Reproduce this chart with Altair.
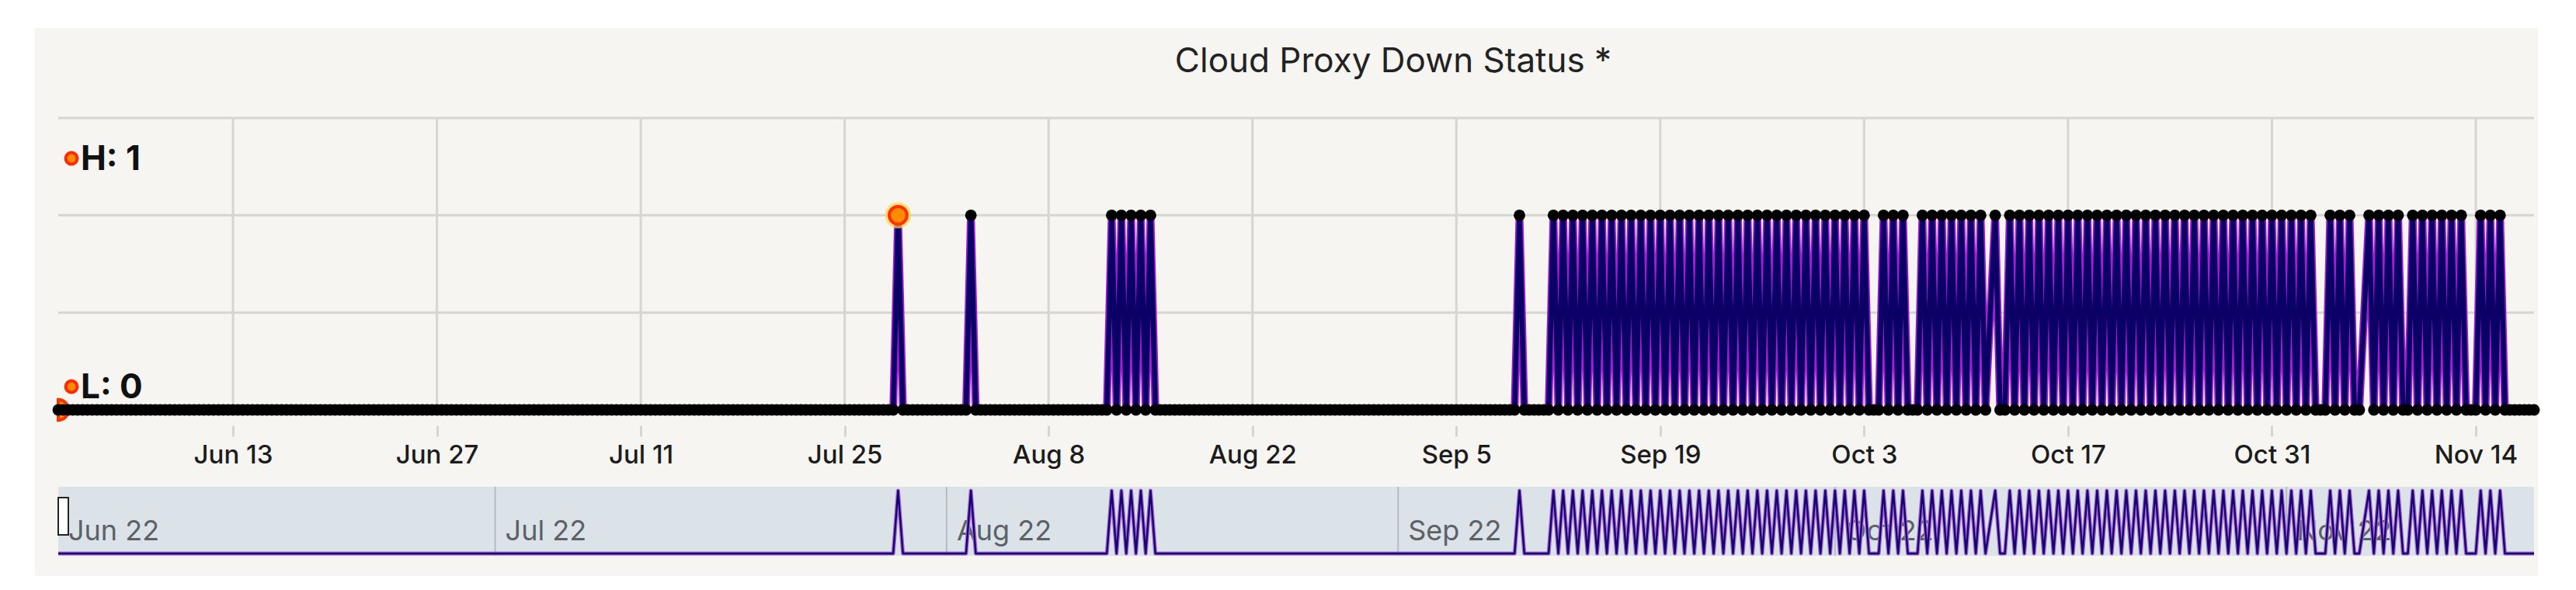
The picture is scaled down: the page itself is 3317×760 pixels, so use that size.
import altair as alt
import pandas as pd

# ---------------- data ----------------
# Status samples every 8 hours starting 2022-06-01 00:00.
# Each 3-char group is one day, each row is one week.  1 = down, 0 = up, "." = no sample.
status_rows = [
    "000 000 000 000 000 000 000",  # Jun 1
    "000 000 000 000 000 000 000",  # Jun 8
    "000 000 000 000 000 000 000",  # Jun 15
    "000 000 000 000 000 000 000",  # Jun 22
    "000 000 000 000 000 000 000",  # Jun 29
    "000 000 000 000 000 000 000",  # Jul 6
    "000 000 000 000 000 000 000",  # Jul 13
    "000 000 000 000 000 000 000",  # Jul 20
    "000 001 000 000 000 000 001",  # Jul 27
    "000 000 000 000 000 000 000",  # Aug 3
    "000 000 010 101 010 100 000",  # Aug 10
    "000 000 000 000 000 000 000",  # Aug 17
    "000 000 000 000 000 000 000",  # Aug 24
    "000 000 000 000 000 000 000",  # Aug 31
    "000 000 010 000 001 010 101",  # Sep 7
    "010 101 010 101 010 101 010",  # Sep 14
    "101 010 101 010 101 010 101",  # Sep 21
    "010 101 010 101 010 100 010",  # Sep 28
    "101 000 101 010 101 010 10.",  # Oct 5
    "100 101 010 101 010 101 010",  # Oct 12
    "101 010 101 010 101 010 101",  # Oct 19
    "010 101 010 101 010 101 010",  # Oct 26
    "101 000 101 010 0.1 010 101",  # Nov 2
    "001 010 101 010 100 010 101",  # Nov 9
    "000 000 0",                    # Nov 16
]

tick_dates = ["2022-06-13", "2022-06-27", "2022-07-11", "2022-07-25", "2022-08-08",
              "2022-08-22", "2022-09-05", "2022-09-19", "2022-10-03", "2022-10-17",
              "2022-10-31", "2022-11-14"]
month_starts = ["2022-06-01", "2022-07-01", "2022-08-01", "2022-09-01", "2022-10-01", "2022-11-01"]
month_labels = ["Jun 22", "Jul 22", "Aug 22", "Sep 22", "Oct 22", "Nov 22"]
grid_levels = [0.5, 1.0, 1.5]
domain_start = "2022-06-01"
domain_end = "2022-11-18"
title_text = "Cloud Proxy Down Status *"

# ---------------- tables ----------------
chars = "".join("".join(status_rows).split())
times = pd.date_range(domain_start, periods=len(chars), freq="8h")
df = pd.DataFrame({"t": times, "v": [None if c == "." else int(c) for c in chars]}).dropna()
df["v"] = df["v"].astype(int)

hi_row = df.loc[df["v"].idxmax()]
lo_row = df.loc[df["v"].idxmin()]
df_hi = pd.DataFrame({"t": [hi_row["t"]], "v": [hi_row["v"]]})
df_lo = pd.DataFrame({"t": [lo_row["t"]], "v": [lo_row["v"]]})

df_ticks = pd.DataFrame({"t": pd.to_datetime(tick_dates)})
df_grid = pd.DataFrame({"g": grid_levels})
df_months = pd.DataFrame({"t": pd.to_datetime(month_starts), "label": month_labels})
df_sep = df_months.iloc[1:]
one = pd.DataFrame({"a": [0]})

# ---------------- style ----------------
FONT = "Inter"
PANEL = "#f6f5f2"
GRID = "#d5d5d2"
NAV_BG = "#dbe3e9"
W, H = 3188, 376
NAV_H = 89

def dt(s):
    p = pd.Timestamp(s)
    return alt.DateTime(year=p.year, month=p.month, date=p.day)

x_scale = alt.Scale(domain=[dt(domain_start), dt(domain_end)], nice=False)
x_main = alt.X(
    "t:T", scale=x_scale, title=None,
    axis=alt.Axis(values=[dt(s) for s in tick_dates], format="%b %-d",
                  labelFont=FONT, labelFontSize=33, labelFontWeight=500,
                  labelColor="#1c1c1c", grid=False, domain=False, ticks=True,
                  tickSize=14, tickWidth=3, tickColor=GRID, offset=20,
                  labelPadding=8, zindex=1, labelFlush=False, labelOverlap=False),
)
y_scale = alt.Scale(domain=[0, 1.5], nice=False, zero=False)

panel = alt.Chart(one).mark_rect(color=PANEL).encode(
    x=alt.value(-30), x2=alt.value(W + 5), y=alt.value(-116), y2=alt.value(590))

hgrid = alt.Chart(df_grid).mark_rule(color=GRID, strokeWidth=3).encode(
    y=alt.Y("g:Q", scale=y_scale, axis=None), x=alt.value(0), x2=alt.value(W))

vgrid = alt.Chart(df_ticks).mark_rule(color=GRID, strokeWidth=3).encode(
    x=x_main, y=alt.value(0), y2=alt.value(H))

low_mark = alt.Chart(df_lo).mark_point(
    shape="M0,-1 A1,1 0 0,1 0,1 Z", filled=True, fill="#ff8c00", stroke="#ff3000",
    strokeWidth=4, size=700, opacity=1).encode(
    x=x_main, y=alt.Y("v:Q", scale=y_scale, axis=None))

base = alt.Chart(df).encode(x=x_main, y=alt.Y("v:Q", scale=y_scale, axis=None))
line_glow = base.mark_line(color="#a020d0", strokeWidth=10, strokeJoin="round")
line_core = base.mark_line(color="#0b0066", strokeWidth=6.5, strokeJoin="round")
pts = base.mark_circle(color="#000000", size=220, opacity=1)

hi_glow = alt.Chart(df_hi).mark_circle(color="#ffd84a", size=1150, opacity=0.7).encode(
    x=x_main, y=alt.Y("v:Q", scale=y_scale, axis=None))
hi_mark = alt.Chart(df_hi).mark_point(
    filled=True, fill="#ff8c00", stroke="#ff3000", strokeWidth=4, size=520, opacity=1).encode(
    x=x_main, y=alt.Y("v:Q", scale=y_scale, axis=None))

leg_df = pd.DataFrame({"label": [f"H: {int(df['v'].max())}", f"L: {int(df['v'].min())}"],
                       "row": [0, 1]})
leg_pos_y = {0: 52, 1: 346}
leg_dots = alt.layer(*[
    alt.Chart(one).mark_point(filled=True, fill="#ff8c00", stroke="#ff2a00",
                              strokeWidth=4, size=220, opacity=1).encode(
        x=alt.value(17), y=alt.value(leg_pos_y[r])) for r in (0, 1)])
leg_text = alt.layer(*[
    alt.Chart(leg_df[leg_df["row"] == r]).mark_text(
        align="left", baseline="middle", font=FONT, fontSize=44, fontWeight="bold",
        color="#111111").encode(x=alt.value(29), y=alt.value(leg_pos_y[r] + 2), text="label:N")
    for r in (0, 1)])

title = alt.Chart(one).mark_text(
    text=title_text, font=FONT, fontSize=44, color="#222222",
    align="center", baseline="middle").encode(x=alt.value(1719), y=alt.value(-72))

main = alt.layer(panel, hgrid, vgrid, low_mark, line_glow, line_core, pts,
                 hi_glow, hi_mark, leg_dots, leg_text, title).properties(width=W, height=H)

# ---------------- navigator ----------------
x_nav = alt.X("t:T", scale=x_scale, axis=None, title=None)
y_nav = alt.Scale(domain=[-0.037, 1.062], nice=False, zero=False)

nav_bg = alt.Chart(one).mark_rect(color=NAV_BG).encode(
    x=alt.value(0), x2=alt.value(W), y=alt.value(0), y2=alt.value(NAV_H))
nav_sep = alt.Chart(df_sep).mark_rule(color="#b3bcc5", strokeWidth=2).encode(
    x=x_nav, y=alt.value(0), y2=alt.value(NAV_H))
nav_lbl = alt.Chart(df_months).mark_text(
    align="left", baseline="middle", dx=13, font=FONT, fontSize=36, color="#5b6167").encode(
    x=x_nav, y=alt.value(58), text="label:N")
nav_base = alt.Chart(df).encode(x=x_nav, y=alt.Y("v:Q", scale=y_nav, axis=None))
nav_glow = nav_base.mark_line(color="#a466d2", strokeWidth=5, strokeJoin="round")
nav_core = nav_base.mark_line(color="#16006e", strokeWidth=2.4, strokeJoin="round")
handle = alt.Chart(one).mark_rect(fill="#ffffff", stroke="#222222", strokeWidth=2).encode(
    x=alt.value(0), x2=alt.value(13), y=alt.value(14), y2=alt.value(62))

nav = alt.layer(nav_bg, nav_sep, nav_lbl, nav_glow, nav_core, handle).properties(
    width=W, height=NAV_H)

chart = alt.vconcat(main, nav, spacing=99, bounds="flush").resolve_scale(
    x="independent", y="independent").properties(
    padding={"left": 37, "top": 28, "right": 10, "bottom": 8}).configure(
    background="white").configure_view(stroke=None)

chart.save("out.html", embed_options={"renderer": "svg", "actions": False})
